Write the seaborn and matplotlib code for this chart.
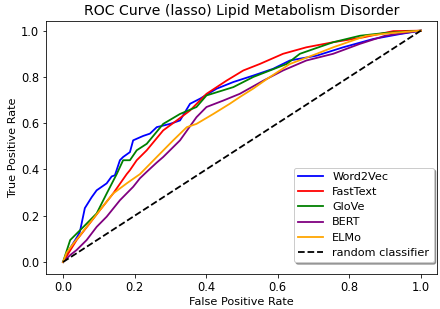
import numpy as np
import pandas as pd
import matplotlib
matplotlib.use("Agg")
import matplotlib.pyplot as plt
import seaborn as sns

# ROC points (false positive rate, true positive rate)
w2v_fpr = [0.0, 0.02, 0.04, 0.047, 0.061, 0.08, 0.094, 0.122, 0.136, 0.145, 0.159, 0.168, 0.187,
           0.196, 0.224, 0.243, 0.262, 0.299, 0.327, 0.355, 0.383, 0.429, 0.476, 0.532, 0.587,
           0.634, 0.709, 0.783, 0.867, 0.941, 1.0]
w2v_tpr = [0.0, 0.06, 0.11, 0.13, 0.233, 0.28, 0.31, 0.34, 0.37, 0.375, 0.44, 0.454, 0.475,
           0.526, 0.545, 0.555, 0.583, 0.597, 0.612, 0.684, 0.706, 0.749, 0.778, 0.806, 0.835,
           0.871, 0.892, 0.928, 0.964, 0.985, 1.0]

ft_fpr = [0.0, 0.02, 0.038, 0.075, 0.103, 0.14, 0.178, 0.187, 0.206, 0.234, 0.28, 0.318, 0.355,
          0.401, 0.457, 0.504, 0.55, 0.615, 0.68, 0.755, 0.839, 0.923, 1.0]
ft_tpr = [0.0, 0.05, 0.095, 0.168, 0.224, 0.296, 0.38, 0.397, 0.44, 0.483, 0.569, 0.612, 0.655,
          0.727, 0.784, 0.828, 0.856, 0.9, 0.928, 0.95, 0.971, 0.998, 1.0]

gl_fpr = [0.0, 0.02, 0.057, 0.094, 0.122, 0.15, 0.168, 0.187, 0.206, 0.234, 0.28, 0.327, 0.373,
          0.401, 0.476, 0.532, 0.625, 0.662, 0.755, 0.83, 0.9, 1.0]
gl_tpr = [0.0, 0.095, 0.152, 0.21, 0.296, 0.38, 0.44, 0.44, 0.483, 0.511, 0.597, 0.64, 0.67,
          0.72, 0.756, 0.8, 0.856, 0.9, 0.95, 0.978, 0.99, 1.0]

bert_fpr = [0.0, 0.02, 0.038, 0.066, 0.094, 0.122, 0.159, 0.196, 0.215, 0.234, 0.262, 0.28,
            0.327, 0.373, 0.401, 0.448, 0.494, 0.56, 0.615, 0.68, 0.755, 0.83, 0.9, 1.0]
bert_tpr = [0.0, 0.03, 0.052, 0.095, 0.152, 0.196, 0.267, 0.325, 0.362, 0.39, 0.43, 0.454,
            0.526, 0.626, 0.67, 0.698, 0.727, 0.784, 0.828, 0.871, 0.9, 0.943, 0.978, 1.0]

elmo_fpr = [0.0, 0.01, 0.029, 0.066, 0.103, 0.14, 0.178, 0.215, 0.262, 0.308, 0.346, 0.373,
            0.42, 0.466, 0.494, 0.532, 0.569, 0.634, 0.709, 0.755, 0.848, 0.92, 1.0]
elmo_tpr = [0.0, 0.04, 0.08, 0.152, 0.224, 0.296, 0.34, 0.38, 0.454, 0.526, 0.583, 0.597,
            0.64, 0.684, 0.713, 0.75, 0.79, 0.856, 0.9, 0.928, 0.978, 0.99, 1.0]

models = ["Word2Vec", "FastText", "GloVe", "BERT", "ELMo"]
colors = ["blue", "red", "green", "purple", "orange"]
curves = [(w2v_fpr, w2v_tpr), (ft_fpr, ft_tpr), (gl_fpr, gl_tpr),
          (bert_fpr, bert_tpr), (elmo_fpr, elmo_tpr)]

fig = plt.figure(figsize=(440 / 72, 309 / 72), dpi=72)
ax = fig.add_axes([0.105, 0.113, 0.888, 0.82])

for name, col, (fpr, tpr) in zip(models, colors, curves):
    df = pd.DataFrame({"fpr": fpr, "tpr": tpr})
    sns.lineplot(data=df, x="fpr", y="tpr", sort=False, estimator=None,
                 color=col, label=name, linewidth=1.8, ax=ax)

# diagonal reference line
ax.plot([0, 1], [0, 1], "k--", linewidth=1.8, label="random classifier")

ax.set_title("ROC Curve (lasso) Lipid Metabolism Disorder", fontsize=14)
ax.set_xlabel("False Positive Rate", fontsize=11.3, labelpad=3)
ax.set_ylabel("True Positive Rate", fontsize=11.3, labelpad=3)
ax.set_xlim(-0.047, 1.045)
ax.set_ylim(-0.052, 1.043)
ax.set_xticks(np.arange(0, 1.01, 0.2))
ax.set_yticks(np.arange(0, 1.01, 0.2))
ax.tick_params(labelsize=11.5)
ax.legend(loc="lower right", bbox_to_anchor=(0.992, 0.047), borderaxespad=0,
          shadow=True, fontsize=11.3, labelspacing=0.45, handlelength=2.2)

fig.savefig("out.png", dpi=72)
